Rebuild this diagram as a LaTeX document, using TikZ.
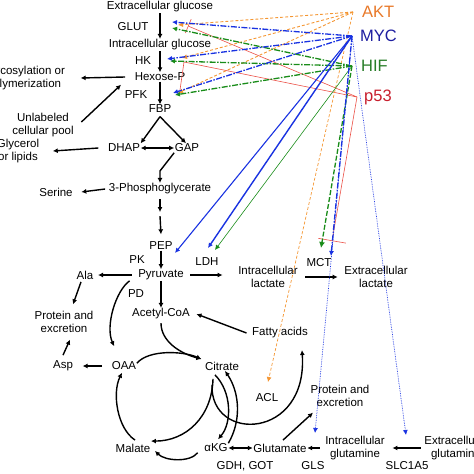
\documentclass[tikz,border=0pt]{standalone}
\usepackage{fontspec}
\setmainfont{Liberation Sans}
\usetikzlibrary{arrows.meta,calc}
\definecolor{aktc}{RGB}{244,150,50}
\definecolor{aktt}{RGB}{232,120,40}
\definecolor{mycc}{RGB}{25,50,225}
\definecolor{myct}{RGB}{30,30,160}
\definecolor{hifc}{RGB}{25,140,25}
\definecolor{hift}{RGB}{40,125,40}
\definecolor{p53c}{RGB}{235,80,70}
\definecolor{p53t}{RGB}{200,30,45}

\begin{document}
\begin{tikzpicture}[x=1pt,y=-1pt,
    lbl/.style={inner sep=0.5pt,align=center,font=\fontsize{11.5}{13.5}\selectfont},
    reg/.style={inner sep=0pt,anchor=west,font=\fontsize{16.5}{18}\selectfont},
    flow/.style={line width=1.4pt,-{Latex[length=5pt,width=5pt]}},
    both/.style={line width=1.4pt,{Latex[length=5pt,width=5pt]}-{Latex[length=5pt,width=5pt]}},
    aktl/.style={aktc,line width=0.9pt,densely dashed,-{Latex[length=5pt,width=5pt]}},
    mycl/.style={mycc,line width=1.3pt,dash pattern=on 6pt off 1.5pt on 1.5pt off 1.5pt,-{Latex[length=5pt,width=5pt]}},
    hifl/.style={hifc,line width=1.3pt,dash pattern=on 6pt off 1.5pt on 1.5pt off 1.5pt,-{Latex[length=5pt,width=5pt]}},
    p53l/.style={p53c,line width=0.6pt}]
    \useasboundingbox (0,0) rectangle (474,474);

    \node[lbl] (eglc) at (160,7) {Extracellular glucose};
    \node[lbl] (glut) at (133,27) {GLUT};
    \node[lbl] (iglc) at (160,45) {Intracellular glucose};
    \node[lbl] (hk) at (143,61) {HK};
    \node[lbl] (hexp) at (160,77) {Hexose-P};
    \node[lbl] (pfk) at (136,95) {PFK};
    \node[lbl] (fbp) at (160,109) {FBP};
    \node[lbl] (glyco) at (24,78) {Glycosylation or\\polymerization};
    \node[lbl] (pool) at (43,125) {Unlabeled\\cellular pool};
    \node[lbl] (glyc) at (18,151) {Glycerol\\or lipids};
    \node[lbl] (dhap) at (124,148) {DHAP};
    \node[lbl] (gap) at (187,148) {GAP};
    \node[lbl] (pg3) at (160,189) {3-Phosphoglycerate};
    \node[lbl] (serine) at (56,192) {Serine};
    \node[lbl] (pep) at (161,246) {PEP};
    \node[lbl] (pk) at (137,260) {PK};
    \node[lbl] (pyr) at (161,275) {Pyruvate};
    \node[lbl] (ldh) at (207,262) {LDH};
    \node[lbl] (ilac) at (268,277) {Intracellular\\lactate};
    \node[lbl] (mct) at (319,263) {MCT};
    \node[lbl] (elac) at (376,277) {Extracellular\\lactate};
    \node[lbl] (ala) at (85,275) {Ala};
    \node[lbl] (prot1) at (64,322) {Protein and\\excretion};
    \node[lbl] (pd) at (136,294) {PD};
    \node[lbl] (acoa) at (161,314) {Acetyl-CoA};
    \node[lbl] (fatty) at (280,333) {Fatty acids};
    \node[lbl] (asp) at (63,366) {Asp};
    \node[lbl] (oaa) at (124,366) {OAA};
    \node[lbl] (cit) at (222,366) {Citrate};
    \node[lbl] (acl) at (267,398) {ACL};
    \node[lbl] (prot2) at (340,396) {Protein and\\excretion};
    \node[lbl] (malate) at (133,448) {Malate};
    \node[lbl] (akg) at (216,448) {αKG};
    \node[lbl] (glu) at (280,448) {Glutamate};
    \node[lbl] (gdh) at (245,466) {GDH, GOT};
    \node[lbl] (igln) at (355,448) {Intracellular\\glutamine};
    \node[lbl] (gls) at (313,466) {GLS};
    \node[lbl] (egln) at (456,448) {Extracellular\\glutamine};
    \node[lbl] (slc) at (407,466) {SLC1A5};

    \node[reg,text=aktt] (akt) at (362,12) {AKT};
    \node[reg,text=myct] (myc) at (360,36) {MYC};
    \node[reg,text=hift] (hif) at (361,66) {HIF};
    \node[reg,text=p53t] (p53) at (364,97) {p53};

    \draw[flow] (eglc) -- (iglc);
    \draw[flow] (iglc) -- (hexp);
    \draw[flow] (hexp) -- (fbp);
    \draw[flow] ([xshift=-9pt]hexp.west) -- ([xshift=15pt]glyco.east);
    \draw[flow] ([xshift=7pt,yshift=3pt]pool.east) -- ([xshift=-13pt,yshift=-3pt]hexp.south west);
    \draw[flow] ([yshift=-3pt]fbp.south) -- (dhap.north east);
    \draw[flow] ([yshift=-3pt]fbp.south) -- ([xshift=-1pt]gap.north);
    \draw[both] (dhap) -- (gap);
    \draw[flow] ([xshift=-9pt]dhap.west) -- ([xshift=13pt]glyc.east);
    \draw[flow] (gap.south west) -- ([yshift=12pt]pg3.north) -- (pg3.north);
    \draw[flow] ([xshift=-3pt]pg3.west) -- ([xshift=8pt]serine.east);
    \draw[flow] ([yshift=-4pt]pg3.south) -- ([yshift=-17pt]pg3.south);
    \draw[flow] ([yshift=-21pt]pg3.south) -- ([yshift=7pt]pep.north);
    \draw[flow] (pep) -- (pyr);
    \draw[flow] ([xshift=6pt]pyr.east) -- ([xshift=-15pt]pyr.east -| ilac.west);
    \draw[flow] ([xshift=7pt]ilac.east) -- ([xshift=-6pt]elac.west);
    \draw[flow] ([xshift=-6pt]pyr.west) -- ([xshift=4pt]ala.east);
    \draw[flow] ([xshift=-4pt,yshift=-2pt]ala.south) -- ([xshift=9pt,yshift=6pt]prot1.north);
    \draw[flow] (pyr) -- (acoa);
    \draw[flow] ([xshift=-8pt]pyr.south west) .. controls +(-14,10) and +(-9,-20) .. ([xshift=3pt,yshift=15pt]oaa.north west);
    \draw[flow] ([xshift=-9pt]oaa.west) -- ([xshift=9pt]asp.east);
    \draw[flow] ([yshift=5pt]asp.north) -- ([xshift=6pt,yshift=-6pt]prot1.south);
    \draw[flow] ([yshift=-2pt]oaa.north east) .. controls +(12,-14) and +(-18,-8) .. ([xshift=-3pt,yshift=2pt]cit.north west);
    \draw[flow] ([yshift=-3pt]acoa.south) .. controls +(0,18) and +(-22,-6) .. ([xshift=-3pt,yshift=2pt]cit.north west);
    \draw[flow] ([xshift=-9pt,yshift=-8pt]cit.south) .. controls +(-1,38) and +(35,0) .. ([yshift=2pt]malate.north east);
    \draw[flow] ([xshift=-10pt,yshift=-14pt]cit.south) .. controls +(-2,58) and +(6,90) .. ([xshift=22pt,yshift=-11pt]fatty.south);
    \draw[flow] ([xshift=-7pt,yshift=-4pt]cit.south) .. controls +(17,17) and +(14,-16) .. ([xshift=2pt,yshift=4pt]akg.north);
    \draw[flow] (akg.north east) .. controls +(13,-22) and +(15,22) .. ([xshift=3pt]cit.south);
    \draw[flow] ([xshift=-6pt]akg.south west) .. controls +(-8,10) and +(10,10) .. ([xshift=4pt,yshift=2pt]malate.south east);
    \draw[flow] ([xshift=2pt,yshift=3pt]malate.north) .. controls +(-18,-12) and +(-10,20) .. ([xshift=-2pt,yshift=-2pt]oaa.south);
    \draw[both] (akg) -- (glu);
    \draw[flow] ([xshift=3pt,yshift=3pt]glu.north) -- ([xshift=-27pt,yshift=-5pt]prot2.south);
    \draw[flow] ([xshift=-5pt]igln.west) -- (glu.east);
    \draw[flow] ([xshift=-3pt]egln.west) -- ([xshift=7pt]igln.east);
    \draw[flow] ([xshift=-5pt]fatty.west) -- ([xshift=6pt]acoa.east);

    \coordinate (akt-s) at ([xshift=-9pt]akt.west);
    \coordinate (myc-s) at ([xshift=-8pt]myc.west);
    \coordinate (hif-s) at ([xshift=-9pt]hif.west);
    \coordinate (p53-s) at ([xshift=-7pt]p53.west);
    \coordinate (glut-m) at (172,22);
    \coordinate (glut-a) at (178,25);
    \coordinate (glut-h) at (172,28);
    \coordinate (glut-p) at (188,26);
    \coordinate (hk-m) at (167,59);
    \coordinate (hk-h) at (170,61);
    \coordinate (hk-a) at (182,58);
    \coordinate (hk-p) at (184,62);
    \coordinate (pfk-m) at (173,93);
    \coordinate (pfk-h) at (175,95);
    \coordinate (pfk-a) at (178,93);
    \coordinate (pfk-p) at (180,90);
    \coordinate (pk-m) at (175,253);
    \coordinate (ldh-m) at (208,248);
    \coordinate (ldh-h) at (215,250);
    \coordinate (mct-h) at (321,248);
    \coordinate (mct-m) at (331,256);
    \coordinate (mct-p) at (332,241);
    \coordinate (acl-a) at (268,382);
    \coordinate (gls-m) at (315,433);
    \coordinate (slc-m) at (406,435);

    \draw[p53l,-{Bar[width=15pt]}] (p53-s) -- (glut-p);
    \draw[p53l] (p53-s) -- (hk-p) -- (pfk-p);
    \draw[p53l,-{Bar[width=28pt]}] (p53-s) -- (mct-p);
    \draw[aktl] (akt-s) -- (glut-a);
    \draw[aktl] (akt-s) -- (hk-a);
    \draw[aktl] (akt-s) -- (pfk-a);
    \draw[aktl,line width=0.7pt] (akt-s) -- (acl-a);
    \draw[hifl] (hif-s) -- (glut-h);
    \draw[hifl] (hif-s) -- (hk-h);
    \draw[hifl] (hif-s) -- (pfk-h);
    \draw[hifc,line width=0.6pt,-{Latex[length=5pt,width=5pt]}] (hif-s) -- (ldh-h);
    \draw[hifl,dash pattern=on 5pt off 2pt,-{Latex[length=6pt,width=6pt]}] (hif-s) -- (mct-h);
    \draw[mycl] (myc-s) -- (glut-m);
    \draw[mycl] (myc-s) -- (hk-m);
    \draw[mycl] (myc-s) -- (pfk-m);
    \draw[mycc,line width=1.1pt,-{Latex[length=5pt,width=5pt]}] (myc-s) -- (pk-m);
    \draw[mycc,line width=1.4pt,-{Latex[length=5pt,width=5pt]}] (myc-s) -- (ldh-m);
    \draw[mycl] (myc-s) -- (mct-m);
    \draw[mycc,line width=0.7pt,densely dotted,-{Latex[length=5pt,width=5pt]}] (myc-s) -- (gls-m);
    \draw[mycc,line width=0.7pt,densely dotted,-{Latex[length=5pt,width=5pt]}] (myc-s) -- (slc-m);
\end{tikzpicture}
\end{document}
